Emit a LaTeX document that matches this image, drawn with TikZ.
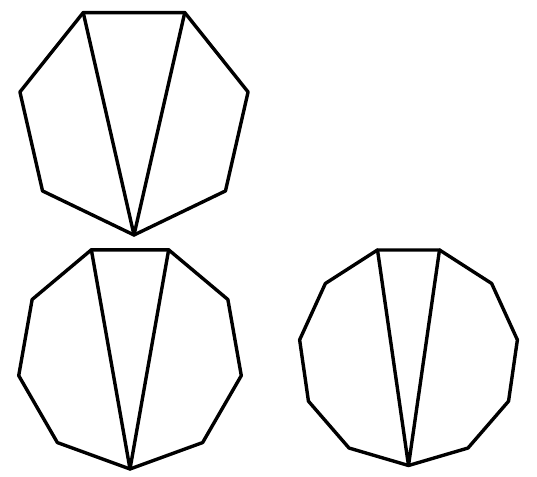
\documentclass[tikz,border=0pt]{standalone}
\usetikzlibrary{calc}
\begin{document}
\begin{tikzpicture}[x=1pt,y=1pt,
  edge/.style={line width=3.4pt,line join=round,line cap=round}]
\useasboundingbox (0,0) rectangle (537,476);
% heptagon
\foreach \k in {0,...,6}{\coordinate (h\k) at ($(134,358)+({-90+360*\k/7}:117)$);}
\draw[edge] (h0)--(h1)--(h2)--(h3)--(h4)--(h5)--(h6)--cycle;
\draw[edge] (h3)--(h0)--(h4);
% nonagon
\foreach \k in {0,...,8}{\coordinate (n\k) at ($(130,120)+({-90+360*\k/9}:113)$);}
\draw[edge] (n0)--(n1)--(n2)--(n3)--(n4)--(n5)--(n6)--(n7)--(n8)--cycle;
\draw[edge] (n4)--(n0)--(n5);
% hendecagon
\foreach \k in {0,...,10}{\coordinate (e\k) at ($(408.5,120.5)+({-90+360*\k/11}:110)$);}
\draw[edge] (e0)--(e1)--(e2)--(e3)--(e4)--(e5)--(e6)--(e7)--(e8)--(e9)--(e10)--cycle;
\draw[edge] (e5)--(e0)--(e6);
\end{tikzpicture}
\end{document}
